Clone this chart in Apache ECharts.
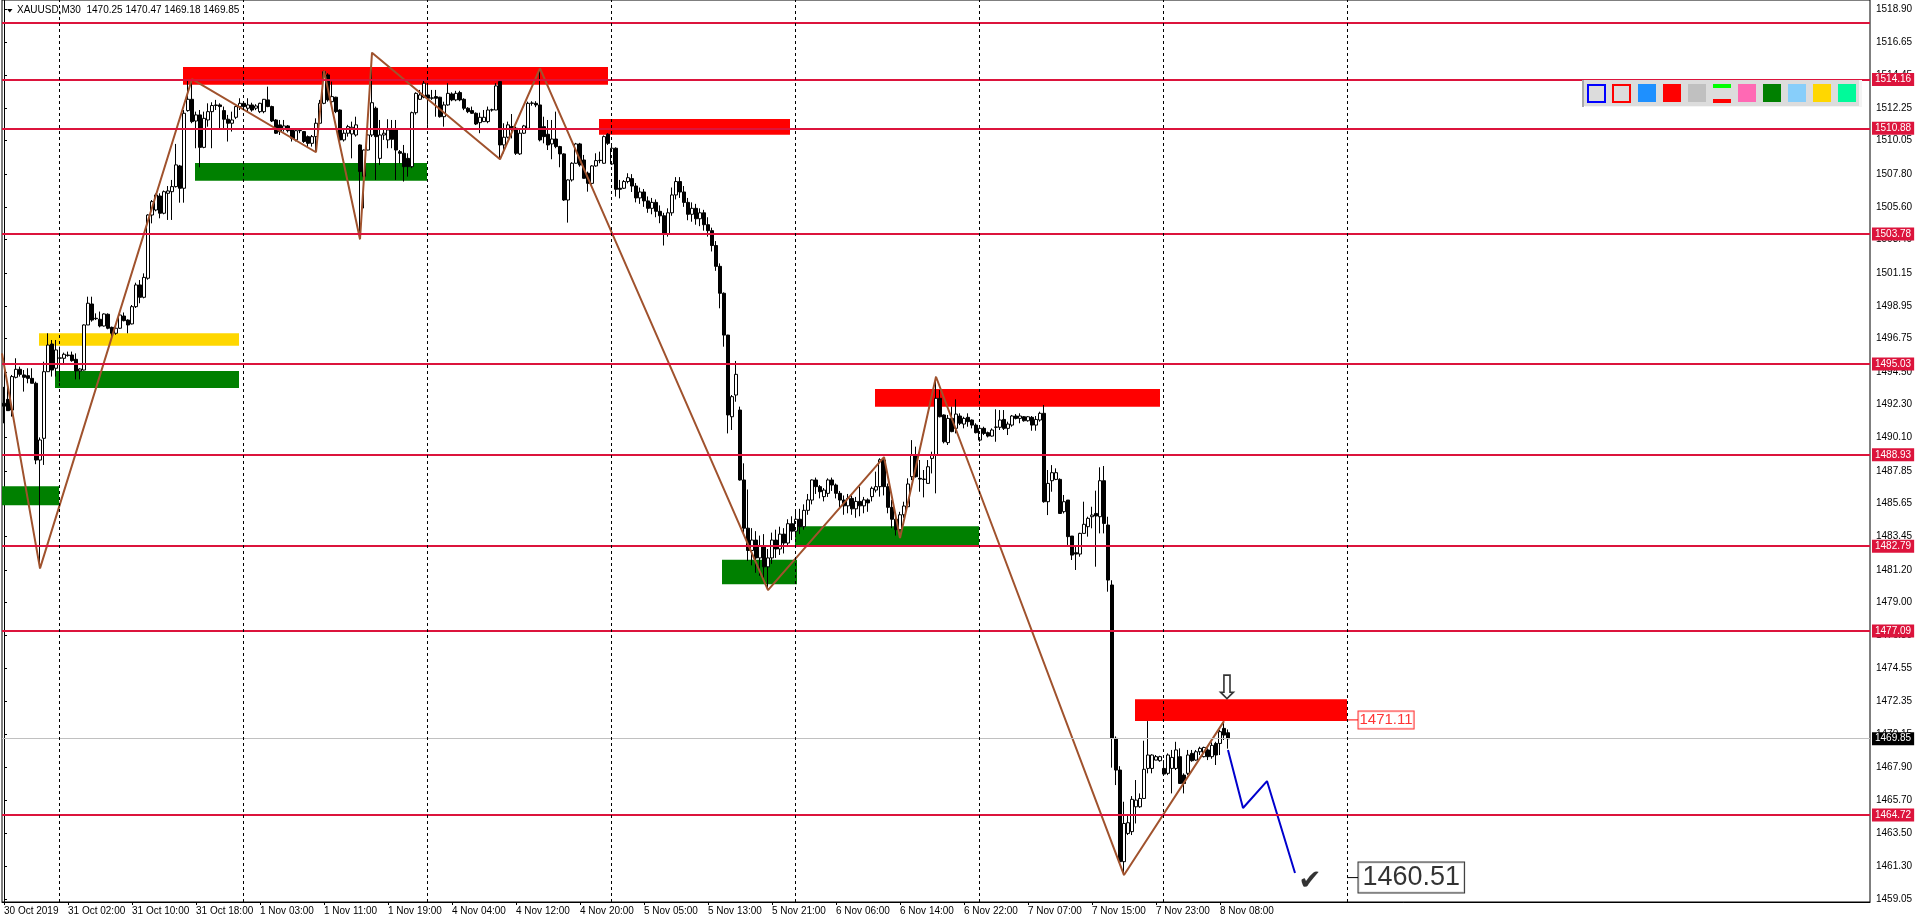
<!DOCTYPE html>
<html><head><meta charset="utf-8">
<script src="https://cdn.jsdelivr.net/npm/echarts@6/dist/echarts.min.js"></script>
<style>html,body{margin:0;padding:0;background:#fff;overflow:hidden}#c{width:1916px;height:923px}</style>
</head><body><div id="c"></div>
<script>
// ---------- DATA ----------
const SLOT_COUNT = 467; // 307 M30 bars + empty future slots
const candles = [ // [open, close, low, high]
[1492.40,1492.20,1491.05,1493.50],[1492.66,1491.90,1491.90,1493.74],[1491.94,1494.19,1491.50,1494.30],[1494.14,1494.68,1494.07,1495.42],[1494.68,1494.34,1494.19,1494.86],
[1494.30,1494.14,1493.18,1494.63],[1494.25,1494.07,1493.74,1494.75],[1494.07,1493.74,1493.74,1494.75],[1493.74,1488.58,1488.30,1493.85],[1488.58,1489.93,1481.30,1490.10],
[1490.04,1494.52,1488.25,1495.19],[1494.52,1496.31,1494.52,1497.10],[1496.38,1494.63,1494.19,1496.65],[1494.75,1495.98,1494.19,1496.65],[1495.42,1495.45,1493.85,1496.20],
[1495.42,1495.69,1494.97,1495.80],[1495.64,1495.60,1495.53,1495.87],[1495.64,1495.26,1495.19,1495.87],[1495.35,1494.57,1494.00,1495.75],[1494.57,1494.70,1494.00,1494.75],
[1494.63,1497.66,1494.60,1497.70],[1497.66,1499.12,1497.66,1499.56],[1499.07,1497.99,1497.88,1499.56],[1498.11,1498.08,1497.99,1498.44],[1498.04,1497.59,1497.50,1498.56],
[1497.59,1498.40,1497.55,1498.44],[1498.38,1497.44,1497.37,1498.44],[1497.50,1497.10,1496.87,1497.55],[1497.10,1497.44,1497.00,1497.50],[1497.44,1498.33,1497.40,1498.44],
[1498.26,1497.95,1497.90,1498.50],[1497.99,1497.66,1497.10,1498.04],[1497.73,1498.89,1497.70,1499.00],[1498.89,1500.35,1498.80,1500.50],[1500.35,1499.52,1499.12,1500.68],
[1499.52,1500.86,1499.45,1501.13],[1500.80,1505.05,1500.70,1505.10],[1505.05,1505.95,1504.49,1506.06],[1505.39,1506.40,1505.30,1506.50],[1506.33,1505.17,1504.83,1506.51],
[1505.17,1506.62,1505.10,1506.70],[1506.51,1506.67,1504.72,1507.00],[1506.62,1506.96,1504.72,1507.41],[1506.96,1508.42,1506.90,1509.83],[1508.35,1506.85,1505.88,1508.42],
[1506.85,1511.89,1505.88,1512.11],[1512.07,1512.83,1512.00,1514.06],[1512.83,1511.33,1511.22,1514.19],[1511.37,1511.78,1509.54,1512.00],[1511.78,1509.60,1508.26,1512.11],
[1509.60,1511.55,1509.54,1512.00],[1511.44,1512.00,1510.99,1512.56],[1512.00,1512.41,1509.54,1512.63],[1512.41,1512.45,1512.11,1512.79],[1512.45,1512.34,1510.88,1512.56],
[1512.07,1511.49,1510.88,1512.34],[1511.49,1511.22,1509.99,1511.78],[1511.22,1511.44,1510.66,1512.00],[1511.62,1512.34,1511.50,1512.40],[1512.34,1512.56,1512.11,1512.90],
[1512.56,1512.34,1512.20,1512.70],[1512.23,1512.45,1512.00,1512.90],[1512.45,1512.11,1512.00,1512.60],[1512.23,1512.38,1512.10,1512.50],[1512.00,1512.56,1511.90,1512.60],
[1512.00,1512.83,1511.89,1512.85],[1512.79,1512.34,1512.30,1513.68],[1512.34,1511.37,1511.30,1512.40],[1511.44,1510.55,1510.50,1511.50],[1511.11,1510.66,1510.43,1511.44],
[1510.88,1511.04,1510.66,1511.44],[1511.04,1510.72,1510.60,1511.10],[1510.77,1510.21,1509.99,1510.81],[1510.10,1510.72,1510.00,1510.80],[1510.72,1510.74,1510.55,1510.88],
[1510.66,1509.99,1509.90,1510.70],[1510.32,1509.87,1509.60,1510.40],[1509.87,1510.32,1509.65,1510.43],[1510.32,1511.22,1509.30,1511.55],[1511.22,1512.56,1511.20,1512.79],
[1512.56,1514.69,1512.50,1514.75],[1514.47,1512.79,1512.67,1514.58],[1512.67,1513.01,1512.56,1514.02],[1512.97,1512.00,1511.90,1513.00],[1512.11,1510.10,1509.99,1512.15],
[1510.10,1510.55,1509.99,1510.88],[1510.55,1510.99,1510.32,1511.11],[1510.50,1510.95,1508.86,1511.33],[1510.43,1511.11,1510.32,1511.66],[1509.76,1507.97,1503.42,1509.80],
[1507.63,1509.42,1505.50,1509.45],[1509.42,1510.43,1509.40,1510.50],[1510.43,1512.60,1510.30,1515.96],[1512.23,1510.32,1507.41,1512.34],[1508.86,1510.43,1508.42,1511.44],
[1510.43,1510.55,1510.10,1510.88],[1510.10,1510.77,1509.54,1511.49],[1510.81,1510.14,1509.54,1511.44],[1510.81,1509.42,1507.41,1511.44],[1509.31,1509.20,1508.53,1509.42],
[1509.20,1508.30,1507.30,1509.76],[1508.86,1508.30,1507.63,1509.20],[1508.30,1511.93,1508.20,1512.00],[1511.93,1513.23,1511.80,1513.30],[1512.83,1513.12,1512.79,1513.46],
[1512.97,1513.91,1512.90,1514.13],[1513.12,1512.90,1511.11,1513.91],[1512.90,1512.93,1512.79,1513.46],[1513.01,1512.90,1511.66,1513.46],[1512.97,1511.66,1511.60,1513.00],
[1511.66,1512.45,1510.99,1512.67],[1512.45,1513.23,1512.40,1513.91],[1513.19,1512.79,1512.70,1513.30],[1512.79,1513.23,1512.70,1513.40],[1513.28,1512.79,1512.70,1513.40],
[1512.83,1512.23,1512.10,1512.90],[1512.23,1512.00,1511.90,1512.30],[1512.07,1511.89,1511.85,1512.34],[1511.89,1511.17,1511.10,1511.95],[1511.26,1511.62,1510.55,1511.93],
[1511.33,1511.62,1511.30,1512.11],[1511.33,1512.11,1511.22,1512.34],[1512.11,1512.13,1512.00,1512.20],[1512.11,1513.73,1512.10,1513.91],[1514.02,1509.76,1508.80,1514.05],
[1509.76,1510.28,1509.20,1511.22],[1510.28,1511.11,1510.20,1511.33],[1511.00,1510.80,1510.20,1511.84],[1510.88,1509.20,1509.09,1510.99],[1509.16,1510.55,1509.09,1510.77],
[1510.55,1511.04,1510.50,1511.11],[1510.88,1512.56,1510.77,1512.67],[1512.56,1512.58,1512.40,1512.70],[1512.56,1512.45,1512.30,1512.70],[1512.45,1510.10,1510.00,1514.91],
[1510.99,1510.32,1509.87,1511.66],[1510.48,1509.76,1509.42,1511.44],[1509.83,1510.16,1508.80,1511.44],[1510.16,1509.65,1509.54,1512.00],[1509.65,1509.16,1508.26,1509.70],
[1509.16,1506.06,1506.00,1509.20],[1506.06,1507.41,1504.54,1507.45],[1507.41,1508.53,1507.30,1508.60],[1508.53,1509.83,1508.50,1509.90],[1509.83,1508.42,1508.30,1509.90],
[1508.75,1507.52,1507.50,1509.09],[1507.86,1507.18,1506.62,1507.97],[1507.18,1508.35,1507.10,1508.40],[1508.35,1508.71,1508.30,1509.20],[1508.71,1508.73,1508.53,1509.31],
[1508.53,1510.32,1508.50,1510.40],[1510.48,1509.87,1509.76,1510.55],[1508.48,1509.54,1508.42,1509.69],[1509.54,1506.78,1506.29,1509.60],[1506.85,1506.78,1506.17,1507.41],
[1506.85,1507.30,1506.80,1507.40],[1507.30,1507.56,1507.18,1507.86],[1507.50,1507.00,1506.60,1507.80],[1507.00,1506.20,1505.90,1507.20],[1506.20,1506.60,1505.80,1506.90],
[1506.60,1506.00,1505.60,1506.80],[1506.00,1505.50,1505.20,1506.30],[1505.50,1505.90,1505.10,1506.20],[1505.90,1505.30,1504.90,1506.10],[1505.30,1505.00,1504.50,1505.70],
[1505.00,1503.80,1503.00,1505.20],[1503.80,1505.20,1503.60,1505.50],[1505.20,1506.40,1505.00,1506.90],[1506.40,1507.30,1506.10,1507.60],[1507.30,1506.60,1506.20,1507.60],
[1506.60,1505.90,1505.60,1507.00],[1505.90,1505.10,1504.70,1506.20],[1505.10,1505.50,1504.60,1505.90],[1505.50,1504.80,1504.40,1505.80],[1504.80,1505.20,1504.30,1505.50],
[1505.20,1504.40,1504.00,1505.40],[1504.40,1504.00,1503.60,1504.90],[1504.00,1503.00,1502.60,1504.20],[1503.00,1501.60,1501.30,1503.30],[1501.60,1499.79,1498.78,1501.80],
[1499.79,1496.98,1496.20,1499.85],[1496.98,1491.61,1490.37,1497.00],[1491.49,1492.84,1490.60,1492.95],[1492.95,1494.34,1492.50,1495.24],[1491.94,1487.24,1487.20,1492.17],
[1487.24,1484.00,1483.60,1488.36],[1484.00,1482.50,1481.80,1486.60],[1482.50,1483.20,1481.50,1484.00],[1483.20,1482.00,1481.00,1483.80],[1482.00,1482.80,1480.80,1483.50],
[1482.80,1481.40,1480.60,1483.60],[1481.40,1482.00,1479.84,1482.60],[1482.00,1483.20,1481.60,1483.70],[1483.20,1482.60,1482.00,1483.90],[1482.60,1483.60,1482.20,1484.10],
[1483.60,1483.00,1482.30,1484.00],[1483.00,1484.30,1482.80,1484.60],[1484.30,1483.80,1483.20,1484.80],[1483.80,1484.60,1483.40,1485.20],[1484.60,1484.10,1483.60,1485.30],
[1484.10,1485.20,1483.90,1485.60],[1485.20,1485.90,1484.90,1486.30],[1485.89,1487.24,1485.60,1487.28],[1487.24,1486.79,1486.30,1487.40],[1486.79,1486.45,1486.00,1486.90],
[1486.12,1486.56,1485.80,1486.70],[1486.34,1487.24,1486.10,1487.35],[1487.24,1486.90,1486.50,1487.40],[1486.90,1486.34,1486.00,1487.00],[1486.34,1485.89,1485.40,1486.50],
[1485.89,1485.50,1484.90,1486.20],[1485.50,1486.00,1485.00,1486.30],[1486.00,1485.30,1484.90,1486.20],[1485.30,1485.80,1484.70,1486.10],[1485.80,1485.50,1484.80,1486.79],
[1485.50,1485.90,1485.00,1486.10],[1485.90,1485.70,1485.10,1486.00],[1486.12,1486.68,1485.80,1486.80],[1486.56,1486.79,1486.40,1487.80],[1486.79,1488.60,1486.12,1488.70],
[1488.58,1486.79,1486.20,1488.78],[1486.79,1485.40,1485.00,1487.00],[1485.40,1484.60,1484.00,1485.90],[1484.60,1483.90,1483.50,1485.00],[1483.90,1484.90,1483.34,1485.10],
[1484.90,1485.49,1484.70,1485.78],[1485.44,1486.97,1485.44,1487.35],[1487.46,1488.92,1487.23,1489.92],[1488.92,1487.46,1487.40,1489.48],[1487.35,1487.30,1486.45,1488.58],
[1487.30,1487.28,1486.07,1487.91],[1487.01,1488.13,1487.00,1488.58],[1488.69,1488.92,1487.68,1489.14],[1488.92,1492.73,1486.34,1494.18],[1492.73,1491.49,1491.45,1493.29],
[1491.61,1489.81,1489.70,1491.65],[1489.75,1491.38,1489.59,1491.61],[1491.38,1490.49,1490.45,1492.17],[1490.71,1491.67,1490.37,1492.66],[1491.54,1491.05,1490.93,1491.72],
[1491.00,1491.38,1490.71,1491.49],[1491.45,1491.16,1490.82,1491.72],[1491.27,1490.93,1490.71,1491.31],[1490.93,1490.42,1490.37,1491.05],[1489.92,1490.71,1489.81,1490.82],
[1490.71,1490.37,1490.26,1490.82],[1490.42,1490.19,1490.10,1490.49],[1490.19,1490.60,1490.15,1490.71],[1490.78,1490.80,1489.81,1491.99],[1490.78,1491.27,1490.60,1491.94],
[1491.31,1490.71,1490.60,1491.94],[1490.71,1491.00,1490.26,1491.16],[1490.93,1491.54,1490.82,1491.61],[1491.54,1491.38,1491.31,1491.67],[1491.38,1491.54,1491.05,1491.72],
[1491.49,1491.22,1491.16,1491.54],[1491.22,1491.49,1491.16,1491.54],[1491.45,1490.93,1490.55,1491.54],[1490.93,1491.31,1490.55,1491.54],[1491.27,1491.72,1491.16,1491.83],
[1491.72,1485.78,1485.71,1492.28],[1485.78,1487.01,1484.88,1487.91],[1487.19,1487.73,1486.45,1488.24],[1487.28,1487.73,1487.23,1488.02],[1487.28,1484.99,1484.99,1487.35],
[1485.11,1485.78,1484.99,1486.23],[1485.89,1483.43,1482.87,1485.89],[1483.47,1482.19,1481.86,1483.47],[1482.35,1482.26,1481.19,1482.75],[1482.26,1483.65,1482.08,1483.69],
[1483.65,1484.26,1483.65,1485.78],[1484.10,1484.66,1483.43,1484.77],[1484.77,1484.88,1483.99,1485.44],[1484.99,1484.82,1481.41,1486.52],[1484.77,1487.19,1483.65,1488.09],
[1487.19,1484.32,1483.65,1488.18],[1484.21,1480.51,1479.73,1484.77],[1480.18,1469.87,1467.90,1480.50],[1469.87,1467.74,1466.73,1470.00],[1467.74,1461.58,1461.40,1468.00],
[1461.58,1464.15,1460.68,1465.61],[1463.48,1464.20,1463.37,1464.71],[1463.60,1465.77,1463.37,1465.99],[1465.27,1465.72,1464.15,1467.07],[1465.27,1465.83,1465.20,1466.17],
[1465.83,1467.79,1465.83,1469.71],[1467.85,1468.75,1467.52,1471.03],[1467.85,1468.75,1467.52,1468.80],[1468.41,1468.64,1468.40,1468.75],[1468.37,1468.64,1468.30,1468.70],
[1467.85,1467.47,1467.40,1468.41],[1467.52,1468.75,1467.40,1468.86],[1467.85,1468.59,1466.17,1469.09],[1467.85,1469.09,1467.74,1469.64],[1468.64,1466.84,1466.84,1469.20],
[1467.40,1466.84,1466.17,1467.52],[1467.52,1468.75,1467.40,1469.09],[1468.86,1468.37,1468.30,1469.09],[1468.41,1468.97,1468.37,1469.09],[1468.97,1469.20,1468.75,1469.31],
[1468.64,1469.26,1468.59,1469.31],[1469.09,1468.64,1468.41,1469.20],[1468.64,1469.40,1468.50,1469.60],[1469.53,1468.75,1468.08,1469.64],[1469.53,1470.32,1468.75,1470.43],
[1470.54,1470.09,1469.76,1471.03],[1470.25,1469.85,1469.18,1470.47]
];
const xTickLabels = [
[0,'30 Oct 2019'],[16,'31 Oct 02:00'],[32,'31 Oct 10:00'],[48,'31 Oct 18:00'],[64,'1 Nov 03:00'],
[80,'1 Nov 11:00'],[96,'1 Nov 19:00'],[112,'4 Nov 04:00'],[128,'4 Nov 12:00'],[144,'4 Nov 20:00'],
[160,'5 Nov 05:00'],[176,'5 Nov 13:00'],[192,'5 Nov 21:00'],[208,'6 Nov 06:00'],[224,'6 Nov 14:00'],
[240,'6 Nov 22:00'],[256,'7 Nov 07:00'],[272,'7 Nov 15:00'],[288,'7 Nov 23:00'],[304,'8 Nov 08:00']
];
const yTickValues = [1518.90,1516.65,1514.45,1512.25,1510.05,1507.80,1505.60,1503.40,1501.15,1498.95,
1496.75,1494.50,1492.30,1490.10,1487.85,1485.65,1483.45,1481.20,1479.00,1476.80,1474.55,1472.35,
1470.15,1467.90,1465.70,1463.50,1461.30,1459.05];
const priceLevels = [1514.16,1510.88,1503.78,1495.03,1488.93,1482.79,1477.09,1464.72];
const unlabeledLevel = 1517.98;
const bidPrice = 1469.85;
const daySeparators = [14,60,106,152,198,244,290,336];
// zones: [fromBar, toBar, lowPrice, highPrice]
const redZones = [[44.75,151,1513.81,1515.00],[148.75,196.5,1510.45,1511.50],[217.75,289,1492.16,1493.35],[282.75,335.75,1471.04,1472.50]];
const greenZones = [[-0.5,13.75,1485.54,1486.82],[12.75,58.75,1493.43,1494.56],[47.75,105.75,1507.35,1508.54],[179.5,198.25,1480.23,1481.87],[197.75,243.75,1482.85,1484.13]];
const yellowZones = [[8.75,58.75,1496.26,1497.11]];
const zigzag = [[-0.5,1495.75],[9,1481.30],[47,1514.19],[78,1509.27],[80,1514.75],[89,1503.42],[92,1515.96],[124,1508.80],[134,1514.91],[191,1479.84],[220,1488.78],[224,1483.34],[233,1494.18],[280,1460.68],[305,1471.03]];
const forecast = [[306,1469.09],[309.75,1465.19],[315.75,1467.00],[322.75,1460.82]];
const zoneEdge = 335.75;
const targetPrice = 1460.51;
const zonePrice = 1471.11;
const headerText = 'XAUUSD,M30  1470.25 1470.47 1469.18 1469.85';

// ---------- CHART ----------
const FONT = '"Liberation Sans", Arial, sans-serif';
const slots = Array.from({length: SLOT_COUNT}, (_, i) => String(i));
const labelMap = {}; xTickLabels.forEach(([i, t]) => labelMap[i] = t);
const showTick = (i) => labelMap[i] !== undefined;

function zoneItems(list, color) {
  return list.map(([a, b, lo, hi]) => [{xAxis: a, yAxis: hi, itemStyle: {color: color, opacity: 1}}, {xAxis: b, yAxis: lo}]);
}
const levelLines = priceLevels.map(p => ({
  yAxis: p,
  lineStyle: {color: '#DC143C', width: 2, type: 'solid'},
  label: {show: true, position: 'end', distance: 2, formatter: () => p.toFixed(2),
    color: '#fff', backgroundColor: '#DC143C', padding: [2, 3, 1, 3], fontSize: 10, fontFamily: FONT}
}));
levelLines.push({yAxis: unlabeledLevel, lineStyle: {color: '#DC143C', width: 2, type: 'solid'}, label: {show: false}});
levelLines.push({yAxis: bidPrice, lineStyle: {color: '#C0C0C0', width: 1, type: 'solid'},
  label: {show: true, position: 'end', distance: 2, formatter: () => bidPrice.toFixed(2),
    color: '#fff', backgroundColor: '#000', padding: [2, 3, 1, 3], fontSize: 10, fontFamily: FONT}});
const sepLines = daySeparators.map(d => ({xAxis: d - 0.25, lineStyle: {color: '#000', width: 1, type: [3, 3]}, label: {show: false}}));

const icons = [
  {x: 1587, type: 'border', color: '#0000FF'}, {x: 1612, type: 'border', color: '#FF0000'},
  {x: 1638, color: '#1E90FF'}, {x: 1663, color: '#FF0000'}, {x: 1688, color: '#C0C0C0'},
  {x: 1713, type: 'bars'}, {x: 1738, color: '#FF69B4'}, {x: 1763, color: '#008000'},
  {x: 1788, color: '#87CEFA'}, {x: 1813, color: '#FFD700'}, {x: 1838, color: '#00FA9A'}
];
const graphics = [
  {type: 'polygon', shape: {points: [[7, 9], [12.5, 9], [9.75, 12.5]]}, style: {fill: '#000'}, z: 100},
  {type: 'text', left: 17, top: 5, style: {text: headerText, fill: '#000', font: '10px ' + FONT}, z: 100},
  {type: 'rect', shape: {x: 1585, y: 80, width: 277, height: 27}, style: {fill: '#F4F4F4'}, z: 100},
  {type: 'rect', shape: {x: 1582, y: 80, width: 277, height: 26}, style: {fill: '#DCDCDC'}, z: 101},
  {type: 'rect', shape: {x: 1582, y: 80, width: 2, height: 27}, style: {fill: '#A9A9A9'}, z: 102}
];
icons.forEach(ic => {
  if (ic.type === 'border') {
    graphics.push({type: 'rect', shape: {x: ic.x + 1, y: 85, width: 17, height: 17}, style: {fill: '#DCDCDC', stroke: ic.color, lineWidth: 2}, z: 103});
  } else if (ic.type === 'bars') {
    graphics.push({type: 'rect', shape: {x: ic.x, y: 84, width: 18, height: 4}, style: {fill: '#00FF00'}, z: 103});
    graphics.push({type: 'rect', shape: {x: ic.x, y: 99, width: 18, height: 4}, style: {fill: '#FF0000'}, z: 103});
  } else {
    graphics.push({type: 'rect', shape: {x: ic.x, y: 84, width: 18, height: 18}, style: {fill: ic.color}, z: 103});
  }
});

const chart = echarts.init(document.getElementById('c'), null, {renderer: 'canvas'});
chart.setOption({
  animation: false,
  backgroundColor: '#fff',
  textStyle: {fontFamily: FONT},
  grid: {left: 2, right: 46, top: 0, bottom: 21, show: true, borderColor: '#000', borderWidth: 1, backgroundColor: '#fff'},
  xAxis: [
    {type: 'category', data: slots, boundaryGap: true,
     axisLine: {show: true, lineStyle: {color: '#000', width: 1}},
     axisTick: {show: true, interval: (i) => showTick(i), alignWithLabel: true, length: 3, lineStyle: {color: '#000'}},
     axisLabel: {show: true, interval: (i) => showTick(i), formatter: (v, i) => labelMap[i] || '', align: 'left',
       color: '#000', fontSize: 10, fontFamily: FONT, margin: 4},
     splitLine: {show: false}},
    {type: 'value', min: -0.5, max: SLOT_COUNT - 0.5, show: false}
  ],
  yAxis: {type: 'value', position: 'right', min: 1458.87, max: 1519.505,
    axisLine: {show: true, lineStyle: {color: '#000', width: 1}},
    axisTick: {show: true, customValues: yTickValues, length: 3, lineStyle: {color: '#000'}},
    axisLabel: {show: true, customValues: yTickValues, formatter: (v) => Number(v).toFixed(2), color: '#000', fontSize: 10, fontFamily: FONT, margin: 6},
    splitLine: {show: false}},
  graphic: {elements: graphics},
  series: [
    {name: 'zones', type: 'line', xAxisIndex: 1, data: [], z: 1, silent: true,
     markArea: {silent: true, data: [].concat(zoneItems(redZones, '#FF0000'), zoneItems(greenZones, '#008000'), zoneItems(yellowZones, '#FFD700'))}},
    {name: 'XAUUSD', type: 'candlestick', xAxisIndex: 0, data: candles, z: 2, barWidth: 3, silent: true,
     itemStyle: {color: '#FFFFFF', color0: '#000000', borderColor: '#000000', borderColor0: '#000000', borderWidth: 1},
     emphasis: {disabled: true}},
    {name: 'levels', type: 'line', xAxisIndex: 1, data: [], z: 3, silent: true,
     markLine: {silent: true, symbol: ['none', 'none'], data: levelLines.concat(sepLines)}},
    {name: 'zigzag', type: 'line', xAxisIndex: 1, data: zigzag, z: 4, silent: true, symbol: 'none',
     lineStyle: {color: '#A0522D', width: 2}},
    {name: 'forecast', type: 'line', xAxisIndex: 1, data: forecast, z: 4, silent: true, symbol: 'none',
     lineStyle: {color: '#0000CD', width: 2}},
    {name: 'leaderTarget', type: 'line', xAxisIndex: 1, data: [[zoneEdge, targetPrice], [zoneEdge + 2.75, targetPrice]], z: 4, silent: true, symbol: 'none',
     lineStyle: {color: '#000', width: 1}},
    {name: 'leaderZone', type: 'line', xAxisIndex: 1, data: [[zoneEdge, zonePrice], [zoneEdge + 2.75, zonePrice]], z: 4, silent: true, symbol: 'none',
     lineStyle: {color: '#FF0000', width: 1}},
    {name: 'notes', type: 'scatter', xAxisIndex: 1, z: 6, silent: true, symbolSize: 1, itemStyle: {color: 'rgba(0,0,0,0)'},
     data: [
       {value: [zoneEdge + 2.75, targetPrice], label: {show: true, position: 'right', distance: 0, formatter: targetPrice.toFixed(2),
         color: '#000', fontSize: 27, fontFamily: FONT, backgroundColor: '#fff', borderColor: '#000', borderWidth: 1, padding: [2, 4, 0, 4], lineHeight: 28}},
       {value: [zoneEdge + 2.75, zonePrice], label: {show: true, position: 'right', distance: 0, formatter: zonePrice.toFixed(2),
         color: '#FF0000', fontSize: 15, fontFamily: FONT, backgroundColor: '#fff', borderColor: '#FF0000', borderWidth: 1, padding: [1, 1, 0, 1], lineHeight: 16}},
       {value: [305.75, 1473.10], label: {show: true, position: 'inside', formatter: '\u21E9', color: '#000', fontSize: 34, fontFamily: '"DejaVu Sans"'}},
       {value: [326.5, 1460.20], label: {show: true, position: 'inside', formatter: '\u2714', color: '#000', fontSize: 28, fontFamily: '"DejaVu Sans"'}}
     ]}
  ]
});
</script>
</body></html>
